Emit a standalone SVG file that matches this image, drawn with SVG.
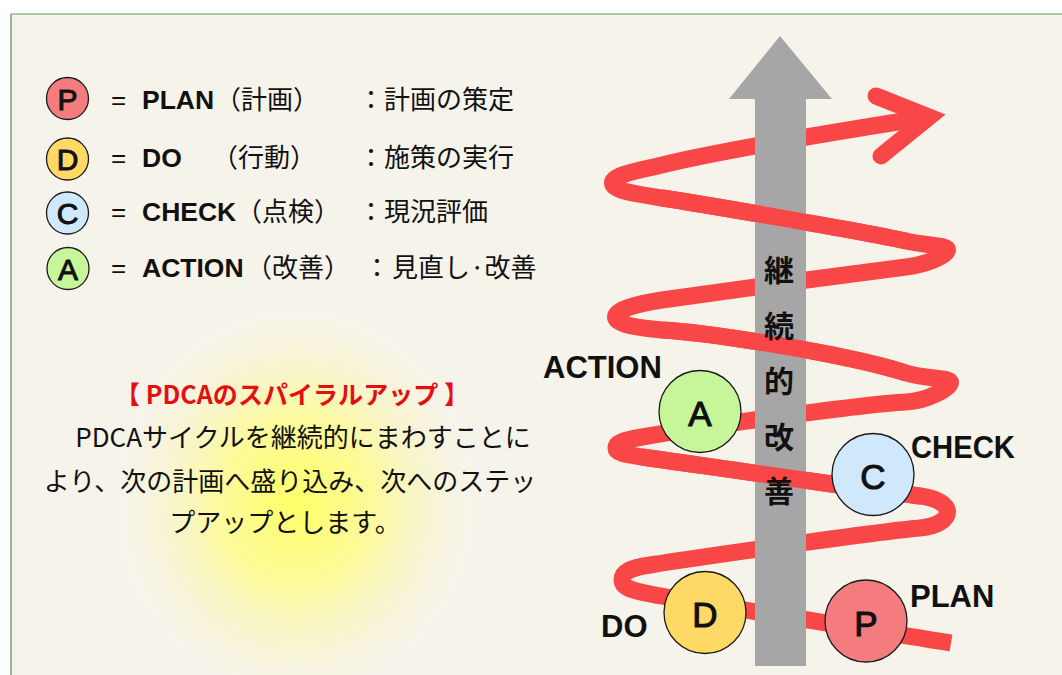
<svg xmlns="http://www.w3.org/2000/svg" width="1062" height="675" viewBox="0 0 1062 675">
<defs>
<radialGradient id="glow" cx="0.5" cy="0.56" r="0.5">
<stop offset="0" stop-color="#ffff66" stop-opacity="1"/>
<stop offset="0.4" stop-color="#fdfb8c" stop-opacity="0.85"/>
<stop offset="0.75" stop-color="#f8f5c6" stop-opacity="0.45"/>
<stop offset="1" stop-color="#f6f3eb" stop-opacity="0"/>
</radialGradient>
<style>
.spiral{fill:none;stroke:#f94747;stroke-width:17;stroke-linecap:butt;stroke-linejoin:round}
.head{fill:none;stroke:#f94747;stroke-width:17;stroke-linecap:round;stroke-linejoin:miter;stroke-miterlimit:10}
.node{stroke:#1a1a1a;stroke-width:1.3}
.big{font-family:"Liberation Sans",Arial,sans-serif;font-size:35px;fill:#111;stroke:#111;stroke-width:1.1;text-anchor:middle}
.small{font-family:"Liberation Sans",Arial,sans-serif;font-size:30px;fill:#111;stroke:#111;stroke-width:1;text-anchor:middle}
.lab{font-family:"Liberation Sans",Arial,sans-serif;font-size:31px;font-weight:bold;fill:#111}
.lat{font-family:"Liberation Sans",Arial,sans-serif;font-size:26.5px;font-weight:bold;fill:#111}
.eq{font-family:"Liberation Sans",Arial,sans-serif;font-size:26px;fill:#111}
.jp{font-family:"Noto Sans CJK JP","Noto Sans",sans-serif;font-size:26px;fill:#111}
.vt{font-family:"Noto Sans CJK JP",sans-serif;font-size:30px;font-weight:bold;fill:#111;text-anchor:middle}
.body{font-family:"Noto Sans CJK JP",sans-serif;font-size:26px;fill:#111;text-anchor:middle}
.title{font-family:"Noto Sans CJK JP",sans-serif;font-size:25px;font-weight:bold;fill:#e60f0f;text-anchor:middle}
</style>
</defs>
<rect x="0" y="0" width="1062" height="675" fill="#ffffff"/>
<rect x="11" y="14" width="1051" height="661" fill="#f6f3eb"/>
<line x1="11" y1="14" x2="1062" y2="14" stroke="#8fb98f" stroke-width="1.6"/>
<line x1="11" y1="14" x2="11" y2="675" stroke="#8fb98f" stroke-width="2"/>
<ellipse cx="296" cy="478" rx="192" ry="208" fill="url(#glow)"/>

<g id="legend">
<g id="legend-P">
<circle class="node" cx="67.5" cy="98.5" r="21" fill="#f47b7e"/>
<text class="small" x="67.5" y="109.5">P</text>
<text class="eq" x="111" y="109">=</text>
<text class="lat" x="142" y="109">PLAN</text>
<text class="jp" x="215" y="109">（計画）</text>
<text class="jp" x="358" y="109">：計画の策定</text>
</g>
<g id="legend-D">
<circle class="node" cx="67.5" cy="159" r="21" fill="#ffd966"/>
<text class="small" x="67.5" y="170">D</text>
<text class="eq" x="111" y="167">=</text>
<text class="lat" x="142" y="167">DO</text>
<text class="jp" x="212" y="167">（行動）</text>
<text class="jp" x="358" y="167">：施策の実行</text>
</g>
<g id="legend-C">
<circle class="node" cx="67.5" cy="213" r="21" fill="#cfe8fb"/>
<text class="small" x="67.5" y="224">C</text>
<text class="eq" x="111" y="221">=</text>
<text class="lat" x="142" y="221">CHECK</text>
<text class="jp" x="236" y="221">（点検）</text>
<text class="jp" x="358" y="221">：現況評価</text>
</g>
<g id="legend-A">
<circle class="node" cx="68" cy="268.5" r="21" fill="#c7f69a"/>
<text class="small" x="68" y="279.5">A</text>
<text class="eq" x="111" y="277">=</text>
<text class="lat" x="142" y="277">ACTION</text>
<text class="jp" x="246" y="277">（改善）</text>
<text class="jp" x="364" y="277">：</text>
<text class="jp" x="392" y="277">見直し·改善</text>
</g>
</g>

<g id="description">
<text class="title" x="292" y="404" textLength="354" lengthAdjust="spacing">【 PDCAのスパイラルアップ 】</text>
<text class="body" x="290" y="447">　PDCAサイクルを継続的にまわすことに</text>
<text class="body" x="290" y="491">より、次の計画へ盛り込み、次へのステッ</text>
<text class="body" x="285" y="532">プアップとします。</text>
</g>

<g id="connectors">
<path id="spiral" class="spiral" d="M929 117 C840 131 720 151 662 165 C637 171 612.5 175 612.5 183 C612.5 191 637 194 662 198 C702 204 860 231 906 241 C928 246 947.5 245 947.5 250 C947.5 255 928 264.4 906 267 C860 272.5 702 294 662 300 C637 303.8 615.5 309.5 615.5 317 C615.5 324.5 637 327.8 662 330 C700 332 840 352 906 373 C926 379.4 950.5 377 950.5 382.5 C950.5 388 928 400.9 906 402 C862 404.2 700 427 642 437 C622 440.4 616 443 616 448 C616 453 624 454.5 642 457 C687 463.3 870 490 920 496 C938 498.2 947.5 505 947.5 512 C947.5 519 938 526.4 920 528 C874 532 695 558 650 565 C630 568 622 572 622 580 C622 588 632 590.4 650 594 C690 602 880 631 951 643"/>
<polyline id="spiral-head" class="head" points="876,96 929,117 881,156"/>
</g>

<g id="improvement-arrow">
<polygon points="755,666 755,99 729,99 780,36 832,99 806,99 806,666" fill="#a6a6a6"/>
</g>

<g id="spiral-front">
<path class="spiral" d="M662 198 C702 204 860 231 906 241"/>
<path class="spiral" d="M662 330 C700 332 840 352 906 373"/>
<path class="spiral" d="M642 457 C687 463.3 870 490 920 496"/>
</g>

<g id="arrow-label">
<text class="vt" x="779" y="281">継</text>
<text class="vt" x="779" y="337">続</text>
<text class="vt" x="779" y="392">的</text>
<text class="vt" x="779" y="448">改</text>
<text class="vt" x="779" y="502">善</text>
</g>

<g id="node-A">
<circle class="node" cx="700" cy="411.5" r="41" fill="#c7f69a"/>
<text class="big" x="700" y="426">A</text>
<text class="lab" x="543" y="378">ACTION</text>
</g>
<g id="node-C">
<circle class="node" cx="873" cy="474.5" r="41" fill="#cfe8fb"/>
<text class="big" x="873" y="489">C</text>
<text class="lab" x="911" y="458" textLength="104" lengthAdjust="spacingAndGlyphs">CHECK</text>
</g>
<g id="node-D">
<circle class="node" cx="705" cy="612.5" r="41" fill="#ffd966"/>
<text class="big" x="705" y="627">D</text>
<text class="lab" x="601" y="637">DO</text>
</g>
<g id="node-P">
<circle class="node" cx="866" cy="621" r="41" fill="#f47b7e"/>
<text class="big" x="866" y="635.5">P</text>
<text class="lab" x="910" y="607">PLAN</text>
</g>
</svg>
